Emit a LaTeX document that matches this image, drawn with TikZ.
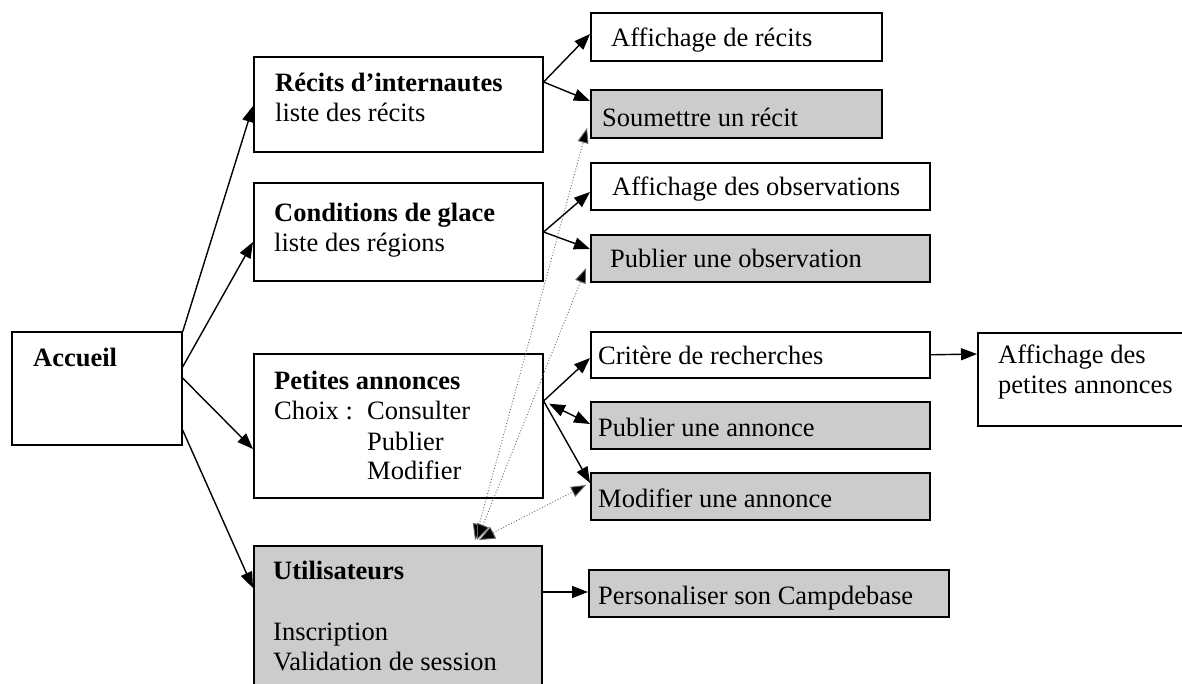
\documentclass[tikz,border=0pt]{standalone}
\usepackage{fontspec}
\setmainfont{Liberation Serif}
\usetikzlibrary{arrows.meta,calc}
\definecolor{stipple}{gray}{0.80}
\tikzset{
  box/.style={draw, line width=1.6pt, inner sep=0pt, anchor=north west},
  greybox/.style={box, fill=stipple},
  txt/.style={anchor=base west, inner sep=0pt, font=\fontsize{26.5}{30}\selectfont},
  title/.style={txt, font=\fontsize{26.5}{30}\selectfont\bfseries},
  head/.style={Triangle[length=16pt,width=12pt]},
  arr/.style={line width=1.4pt, -{Triangle[length=16pt,width=12pt]}},
  darr/.style={line width=1.4pt, {Triangle[length=16pt,width=12pt]}-{Triangle[length=16pt,width=12pt]}},
  link/.style={dotted, line width=0.9pt, draw=black!60,
    {Triangle[length=16pt,width=13pt,fill=black]}-{Triangle[length=15pt,width=11pt,fill=black]}}
}
\begin{document}
\begin{tikzpicture}[x=1pt,y=-1pt]
\clip (0,0) rectangle (1182,684);
\fill[white] (0,0) rectangle (1182,684);

% main sections
\node[box, minimum width=170pt, minimum height=113pt] (acc) at (11,331) {};
\node[box, minimum width=289pt, minimum height=95pt] (rec) at (253,56) {};
\node[box, minimum width=289pt, minimum height=98pt] (con) at (253,182) {};
\node[box, minimum width=289pt, minimum height=144pt] (pet) at (253,353) {};
\node[greybox, minimum width=288pt, minimum height=160pt] (usr) at (253,545) {};

% pages
\node[box, minimum width=291pt, minimum height=48pt] (aff1) at (590,12) {};
\node[greybox, minimum width=291pt, minimum height=48pt] (sou) at (590,89) {};
\node[box, minimum width=339pt, minimum height=47pt] (aff2) at (590,162) {};
\node[greybox, minimum width=339pt, minimum height=47pt] (pubo) at (590,234) {};
\node[box, minimum width=339pt, minimum height=46pt] (crit) at (590,331) {};
\node[greybox, minimum width=339pt, minimum height=47pt] (puba) at (590,401) {};
\node[greybox, minimum width=339pt, minimum height=47pt] (moda) at (590,472) {};
\node[greybox, minimum width=360pt, minimum height=47pt] (perso) at (588,569) {};
\node[box, minimum width=230pt, minimum height=93pt] (affpa) at (977,332) {};

% labels
\node[title] (tacc) at (33,366) {Accueil};
\node[title] (trec) at (275,92) {Récits d’internautes};
\node[txt] (trec2) at (275,122) {liste des récits};
\node[title] (tcon) at (274,222) {Conditions de glace};
\node[txt] (tcon2) at (274,252) {liste des régions};
\node[title] (tpet) at (274,389) {Petites annonces};
\node[txt] (tpet2) at (274,419) {Choix :};
\node[txt] (tpet3) at (367,419) {Consulter};
\node[txt] (tpet4) at (367,450) {Publier};
\node[txt] (tpet5) at (367,479) {Modifier};
\node[title] (tusr) at (273,579) {Utilisateurs};
\node[txt] (tusr2) at (273,640) {Inscription};
\node[txt] (tusr3) at (273,670) {Validation de session};

\node[txt] (taff1) at (611,47) {Affichage de récits};
\node[txt] (tsou) at (602,127) {Soumettre un récit};
\node[txt] (taff2) at (612,196) {Affichage des observations};
\node[txt] (tpubo) at (610,268) {Publier une observation};
\node[txt] (tcrit) at (598,364) {Critère de recherches};
\node[txt] (tpuba) at (598,436) {Publier une annonce};
\node[txt] (tmoda) at (598,507) {Modifier une annonce};
\node[txt] (tperso) at (598,604) {Personaliser son Campdebase};
\node[txt] (taffpa) at (998,363) {Affichage des};
\node[txt] (taffpa2) at (998,393) {petites annonces};

% navigation from the home page
\draw[arr] ($(acc.north east)+(0,1)$) -- ($(rec.north west)+(0,50)$);
\draw[arr] ($(acc.north east)+(0,36)$) -- ($(con.north west)+(0,60)$);
\draw[arr] ($(acc.north east)+(0,47)$) -- ($(pet.north west)+(0,96)$);
\draw[arr] ($(acc.north east)+(0,99)$) -- ($(usr.north west)+(0,43)$);

% navigation from the sections
\draw[arr] ($(rec.north east)+(0,26)$) -- ($(aff1.north west)+(0,22)$);
\draw[arr] ($(rec.north east)+(0,26)$) -- ($(sou.north west)+(0,12)$);
\draw[arr] ($(con.north east)+(0,50)$) -- ($(aff2.north west)+(0,30)$);
\draw[arr] ($(con.north east)+(0,50)$) -- ($(pubo.north west)+(0,15)$);
\draw[arr] ($(pet.north east)+(0,48)$) -- ($(crit.north west)+(0,27)$);
\draw[darr, shorten <=6pt] ($(pet.north east)+(0,48)$) -- ($(puba.north west)+(0,23)$);
\draw[arr] ($(pet.north east)+(0,48)$) -- ($(moda.north west)+(0,11)$);
\draw[arr] (crit.east) -- ($(affpa.north west)+(0,22)$);
\draw[arr] ($(usr.north east)+(0,47)$) -- ($(perso.north west)+(0,23)$);

% pages that require a session
\draw[link] ($(usr.north west)+(222,-5)$) -- ($(sou.north west)+(-3,39)$);
\draw[link] ($(usr.north west)+(224,-5)$) -- ($(pubo.north west)+(-4,34)$);
\draw[link] ($(usr.north west)+(226,-5)$) -- ($(moda.north west)+(-4,13)$);
\end{tikzpicture}
\end{document}
